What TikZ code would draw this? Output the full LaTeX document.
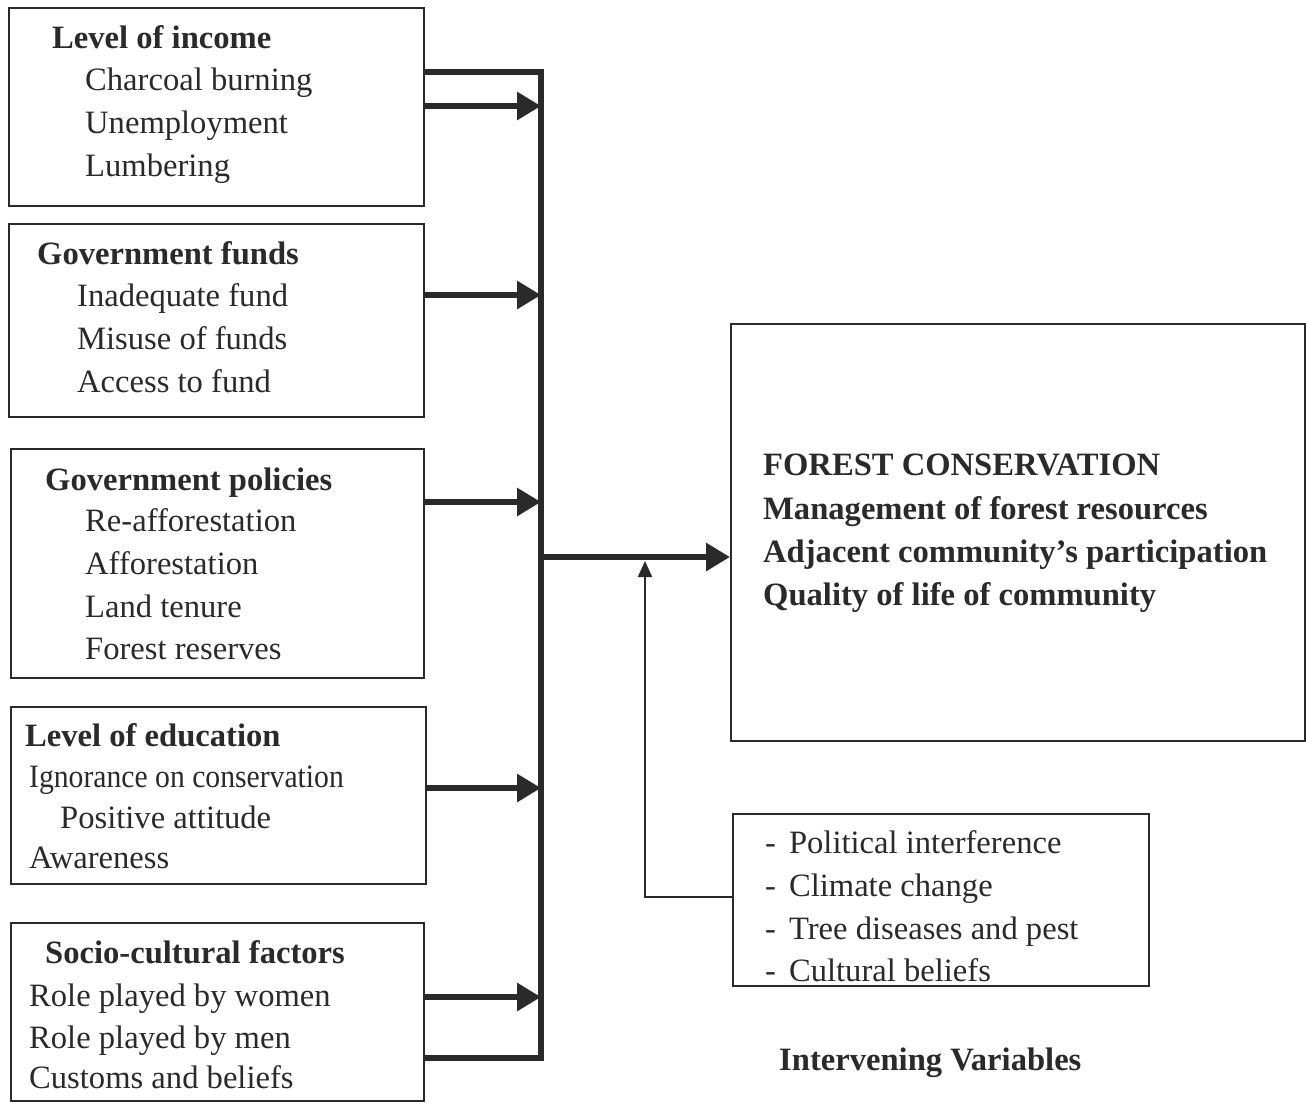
\documentclass[tikz,border=0pt]{standalone}
\usepackage{fontspec}
\setmainfont{Liberation Serif}
\usetikzlibrary{arrows.meta,calc}
\definecolor{ink}{HTML}{2A2A2A}
\begin{document}
\begin{tikzpicture}[x=1pt,y=-1pt,
  box/.style={draw=ink,line width=2pt,inner sep=0pt,anchor=north west},
  txt/.style={anchor=base west,inner sep=0pt,text=ink,font=\fontsize{32.6}{40}\selectfont},
  hd/.style={anchor=base west,inner sep=0pt,text=ink,font=\fontsize{32.6}{40}\selectfont\bfseries},
  bus/.style={draw=ink,line width=6.5pt},
  arr/.style={draw=ink,line width=6.5pt,-{Triangle[length=24pt,width=27pt]}},
  thinarr/.style={draw=ink,line width=2pt,-{Triangle[length=16pt,width=14pt]}},
]
\useasboundingbox (0,0) rectangle (1306,1103);
\clip (0,0) rectangle (1306,1103);

% boxes
\node[box,minimum width=415pt,minimum height=198pt] (b1) at (8,7) {};
\node[box,minimum width=415pt,minimum height=193pt] (b2) at (8,223) {};
\node[box,minimum width=413pt,minimum height=229pt] (b3) at (10,448) {};
\node[box,minimum width=415pt,minimum height=177pt] (b4) at (10,706) {};
\node[box,minimum width=413pt,minimum height=178pt] (b5) at (10,922) {};
\node[box,minimum width=574pt,minimum height=417pt] (fc) at (730,323) {};
\node[box,minimum width=416pt,minimum height=172pt] (iv) at (732,813) {};

% box 1
\node[hd] (t1) at (52,48) {Level of income};
\node[txt] (t1a) at (85,90) {Charcoal burning};
\node[txt] (t1b) at (85,133) {Unemployment};
\node[txt] (t1c) at (85,176) {Lumbering};
% box 2
\node[hd] (t2) at (37,264) {Government funds};
\node[txt] (t2a) at (77,306) {Inadequate fund};
\node[txt] (t2b) at (77,349) {Misuse of funds};
\node[txt] (t2c) at (77,392) {Access to fund};
% box 3
\node[hd] (t3) at (45,490) {Government policies};
\node[txt] (t3a) at (85,531) {Re-afforestation};
\node[txt] (t3b) at (85,574) {Afforestation};
\node[txt] (t3c) at (85,617) {Land tenure};
\node[txt] (t3d) at (85,659) {Forest reserves};
% box 4
\node[hd] (t4) at (25,746) {Level of education};
\node[txt] (t4a) at (29,787) {\scalebox{0.91}[1]{Ignorance on conservation}};
\node[txt] (t4b) at (60,828) {Positive attitude};
\node[txt] (t4c) at (29,868) {Awareness};
% box 5
\node[hd] (t5) at (45,963) {Socio-cultural factors};
\node[txt] (t5a) at (29,1006) {Role played by women};
\node[txt] (t5b) at (29,1048) {Role played by men};
\node[txt] (t5c) at (29,1088) {Customs and beliefs};
% forest conservation
\node[hd] (f1) at (763,475) {FOREST CONSERVATION};
\node[hd] (f2) at (763,519) {Management of forest resources};
\node[hd] (f3) at (763,562) {Adjacent community’s participation};
\node[hd] (f4) at (763,605) {Quality of life of community};
% intervening
\node[txt] (i1) at (765,853) {-\hspace{13pt}Political interference};
\node[txt] (i2) at (765,896) {-\hspace{13pt}Climate change};
\node[txt] (i3) at (765,939) {-\hspace{13pt}Tree diseases and pest};
\node[txt] (i4) at (765,981) {-\hspace{13pt}Cultural beliefs};
\node[hd] (ivl) at (779,1070) {Intervening Variables};

% connectors
\coordinate (bt) at (541,72);
\coordinate (bb) at (541,1058);
\coordinate (mj) at (645,561);
\draw[bus,line join=miter] (b1.east |- bt) -- (bt) -- (bb) -- (b5.east |- bb);
\draw[arr] (b1.east |- 0,106) -- (bt |- 0,106);
\draw[arr] (b2.east |- 0,295) -- (bt |- 0,295);
\draw[arr] (b3.east |- 0,502) -- (bt |- 0,502);
\draw[arr] (b4.east |- 0,788) -- (bt |- 0,788);
\draw[arr] (b5.east |- 0,997) -- (bt |- 0,997);
\draw[arr] (bt |- 0,557) -- (fc.west |- 0,557);
\draw[thinarr] (iv.west |- 0,897) -| (mj);
\end{tikzpicture}
\end{document}
